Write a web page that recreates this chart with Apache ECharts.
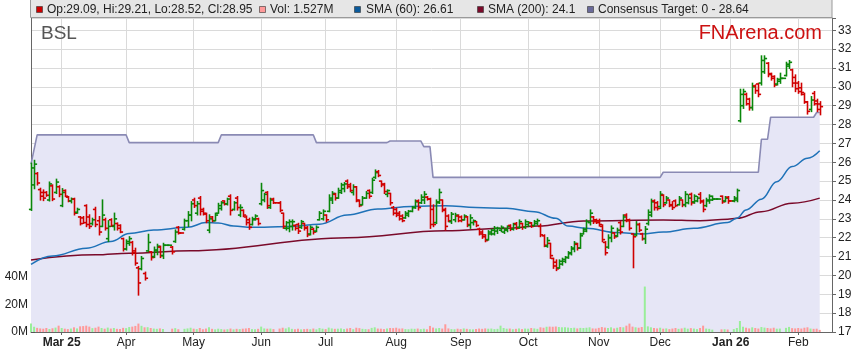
<!DOCTYPE html>
<html><head><meta charset="utf-8">
<script src="https://cdn.jsdelivr.net/npm/echarts@6/dist/echarts.min.js"></script>
<style>html,body{margin:0;padding:0;background:#fff}#c{width:859px;height:363px}</style>
</head><body><div id="c"></div>
<script>
const ticker = 'BSL';
const brand = 'FNArena.com';
const slotCount = 262; // weekday slots on the axis (Feb 17 2025 onward)
const monthTicks = [[10,'Mar 25',true],[31,'Apr'],[53,'May'],[75,'Jun'],[96,'Jul'],[119,'Aug'],[140,'Sep'],[162,'Oct'],[185,'Nov'],[205,'Dec'],[228,'Jan 26',true],[250,'Feb']];
const priceMin = 17, priceMax = 33.65, volMaxM = 228;
const volTicksM = [0, 20, 40];

// [open, high, low, close] per weekday slot
const ohlc = [
[23.5,25.95,23.45,25.7],[24.8,26.1,24.6,25.9],[25.4,25.45,24.8,24.9],[24.55,24.62,24.0,24.2],[24.4,24.53,23.97,24.1],
[24.4,24.44,24.2,24.25],[24.0,24.95,23.95,24.85],[24.75,24.8,23.97,24.05],[24.4,25.1,24.35,24.95],[24.7,24.75,24.18,24.3],
[23.7,24.6,23.65,24.4],[24.5,24.53,24.18,24.2],[24.15,24.18,23.91,23.95],[23.95,24.1,23.85,24.05],[24.05,24.09,23.21,23.3],
[23.35,23.56,23.3,23.5],[23.1,23.12,22.68,22.75],[23.05,23.12,22.76,22.8],[23.7,23.74,22.59,22.7],[23.1,23.21,22.5,22.6],
[22.75,23.03,22.68,22.95],[23.5,23.61,22.59,22.7],[22.9,23.12,22.15,22.3],[22.6,24.0,22.59,23.2],[22.95,23.03,22.41,22.5],
[21.95,22.9,21.8,22.6],[22.95,23.0,22.6,22.65],[22.6,23.3,22.41,23.0],[22.75,22.78,22.41,22.5],[22.65,22.68,22.27,22.3],
[21.95,21.97,21.3,21.4],[21.4,21.88,21.35,21.8],[21.7,22.05,21.6,21.95],[21.75,21.8,21.09,21.2],[21.3,21.44,20.55,20.65],
[20.4,20.47,18.96,19.6],[20.35,21.0,20.3,20.9],[20.1,20.17,19.76,19.85],[21.3,22.18,21.26,21.75],[21.25,21.26,20.82,20.95],
[21.0,21.5,20.95,21.35],[21.3,21.65,21.1,21.55],[21.5,21.55,20.95,21.05],[21.05,21.7,20.9,21.6],[21.6,21.6,21.6,21.6],
[21.6,21.6,21.6,21.6],[21.5,21.53,21.14,21.25],[21.8,22.41,21.76,22.3],[22.55,22.59,22.2,22.25],[22.25,22.25,22.25,22.25],
[22.45,22.98,22.41,22.9],[22.9,23.38,22.6,23.2],[23.2,23.91,22.9,23.8],[24.0,24.09,23.61,23.7],[23.3,23.91,23.21,23.8],
[24.1,24.18,23.21,23.4],[23.5,23.56,23.21,23.3],[23.25,23.3,22.8,22.9],[22.4,23.21,22.27,23.0],[23.1,23.12,22.85,22.9],
[22.9,23.3,22.9,23.2],[23.3,23.82,23.3,23.7],[23.55,23.91,23.47,23.85],[23.95,23.95,23.74,23.78],[23.8,24.09,23.74,24.05],
[24.2,24.27,23.21,23.45],[23.5,23.91,23.47,23.85],[24.1,24.18,23.47,23.6],[23.2,23.74,23.12,23.6],[23.45,23.47,23.12,23.2],
[23.1,23.15,22.68,22.8],[22.95,23.03,22.45,22.55],[22.7,23.08,22.68,23.0],[22.95,23.21,22.94,23.15],[23.0,23.03,22.68,22.75],
[23.8,24.88,23.74,24.5],[24.0,24.35,23.91,24.3],[24.4,24.44,23.56,23.7],[23.6,24.09,23.56,24.0],[24.05,24.09,23.82,23.85],
[23.85,23.85,23.85,23.85],[23.85,23.91,23.38,23.45],[23.3,23.3,22.5,22.6],[22.5,22.85,22.41,22.8],[22.5,22.94,22.32,22.85],
[22.6,22.94,22.41,22.85],[22.65,22.68,22.41,22.5],[22.7,22.76,22.23,22.35],[22.55,22.91,22.5,22.85],[22.75,22.76,22.41,22.5],
[22.55,22.59,22.06,22.15],[22.2,22.62,22.15,22.55],[22.45,22.5,22.2,22.3],[22.35,22.62,22.32,22.55],[22.95,23.38,22.94,23.3],
[23.0,23.47,22.94,23.4],[23.2,23.21,22.85,22.95],[23.4,24.27,23.38,24.1],[24.0,24.44,23.82,24.35],[24.3,24.35,24.0,24.1],
[24.1,24.62,24.09,24.5],[24.4,24.88,24.35,24.8],[24.6,24.92,24.44,24.85],[25.0,25.06,24.62,24.7],[24.8,24.88,24.44,24.5],
[24.4,24.8,24.27,24.7],[24.7,24.71,23.91,24.0],[23.95,24.0,23.65,23.7],[23.75,24.18,23.74,24.1],[24.1,24.44,24.09,24.35],
[24.5,24.53,24.1,24.2],[24.4,25.15,24.35,25.05],[25.2,25.59,25.15,25.45],[25.5,25.56,25.24,25.3],[25.0,25.0,24.71,24.8],
[24.85,24.88,24.35,24.45],[24.3,24.53,24.18,24.5],[24.35,24.35,23.74,23.85],[23.6,23.65,23.21,23.3],[23.5,23.56,23.12,23.2],
[23.3,23.38,22.94,23.0],[23.15,23.21,22.85,22.9],[23.05,23.38,23.03,23.3],[23.2,23.44,23.12,23.4],[23.4,23.65,23.38,23.6],
[23.6,24.0,23.56,23.9],[23.95,24.0,23.47,23.6],[23.85,24.27,23.82,24.15],[24.0,24.44,23.82,24.3],[24.15,24.18,24.0,24.05],
[24.05,24.09,22.5,22.7],[23.5,23.74,22.59,22.7],[22.8,24.0,22.76,23.9],[23.85,24.57,23.82,24.4],[24.0,24.0,23.38,23.45],
[23.5,23.56,22.41,22.6],[23.15,23.21,22.85,22.9],[22.85,23.33,22.76,23.25],[22.95,23.29,22.85,23.2],[23.15,23.21,22.85,22.9],
[23.1,23.15,22.85,22.95],[22.95,23.21,22.94,23.15],[23.1,23.12,22.59,22.7],[22.65,23.21,22.5,23.05],[22.8,22.94,22.68,22.9],
[22.85,22.85,22.59,22.65],[22.45,22.5,22.15,22.2],[22.3,22.37,21.97,22.05],[22.15,22.15,21.79,21.85],[21.9,22.37,21.88,22.3],
[22.2,22.45,22.15,22.4],[22.2,22.59,22.15,22.5],[22.35,22.55,22.23,22.5],[22.4,22.62,22.32,22.55],[22.3,22.5,22.23,22.45],
[22.4,22.62,22.32,22.6],[22.65,22.68,22.38,22.45],[22.45,22.76,22.41,22.7],[22.75,22.8,22.45,22.5],[22.55,22.94,22.5,22.85],
[22.75,22.76,22.45,22.55],[22.55,22.94,22.5,22.85],[22.7,22.85,22.59,22.8],[22.78,22.8,22.55,22.6],[22.65,22.91,22.62,22.85],
[22.75,22.98,22.68,22.9],[22.6,22.72,22.06,22.15],[22.1,22.15,21.53,21.6],[21.55,22.0,21.5,21.85],[21.7,21.7,20.91,21.05],
[20.9,20.91,20.38,20.5],[20.7,20.82,20.26,20.35],[20.4,20.82,20.38,20.75],[20.6,20.91,20.55,20.85],[20.75,21.0,20.68,20.95],
[20.95,21.26,20.91,21.2],[21.15,21.53,21.09,21.45],[21.4,21.79,21.26,21.7],[21.65,21.7,21.35,21.45],[21.45,22.23,21.44,22.1],
[22.2,22.5,22.2,22.45],[22.35,22.94,22.32,22.85],[22.8,23.47,22.68,23.3],[23.1,23.12,22.76,22.85],[22.95,22.98,22.76,22.8],
[22.9,22.98,22.62,22.7],[22.6,22.68,21.79,21.9],[21.75,21.79,21.09,21.2],[21.5,22.15,21.44,22.0],[22.0,22.62,21.79,22.5],
[22.25,22.27,21.97,22.05],[22.1,22.5,22.06,22.4],[22.8,22.85,22.2,22.3],[22.6,23.21,22.59,23.1],[23.2,23.26,22.85,22.95],
[22.9,22.98,22.41,22.5],[22.2,22.2,20.41,22.05],[22.15,22.85,22.1,22.7],[22.7,22.76,22.32,22.4],[22.2,22.23,21.88,21.95],
[21.95,22.59,21.7,22.45],[22.75,23.47,22.68,23.35],[23.2,24.04,23.12,23.9],[23.95,24.0,23.47,23.6],[23.85,23.91,23.47,23.55],
[23.65,24.44,23.55,24.3],[24.25,24.27,23.65,23.75],[23.85,24.18,23.83,24.1],[24.0,24.0,23.65,23.7],[23.75,23.91,23.5,23.6],
[23.95,24.0,23.65,23.7],[23.75,24.18,23.74,24.1],[24.0,24.0,23.65,23.75],[23.75,24.44,23.65,24.3],[23.85,24.27,23.8,24.1],
[24.3,24.36,23.74,23.85],[23.9,24.27,23.83,24.2],[23.95,24.18,23.91,24.1],[24.3,24.39,23.83,23.9],[23.95,24.0,23.38,23.5],
[23.7,24.09,23.65,24.0],[23.95,24.27,23.83,24.2],[24.0,24.21,23.98,24.05],[24.05,24.05,24.05,24.05],[24.05,24.05,24.05,24.05],
[24.2,24.21,23.83,23.9],[23.95,24.18,23.91,24.1],[24.15,24.18,23.83,23.95],[23.95,23.95,23.95,23.95],[23.95,24.18,23.91,24.1],
[24.0,24.57,23.91,24.5],[28.2,29.87,28.14,29.6],[29.0,29.87,28.86,29.75],[29.6,29.66,29.04,29.1],[29.35,29.39,28.77,28.9],
[28.9,30.19,28.77,30.0],[30.05,30.1,29.66,29.8],[30.15,30.19,29.48,29.6],[30.2,31.64,30.1,31.4],[30.8,31.64,30.72,31.5],
[31.25,31.28,30.54,30.65],[30.7,30.72,30.36,30.45],[30.55,30.58,30.01,30.1],[30.15,30.45,30.1,30.4],[30.3,30.72,30.19,30.45],
[30.45,30.45,30.45,30.45],[30.6,31.3,30.58,31.2],[31.1,31.39,30.98,31.3],[30.9,30.93,30.01,30.2],[30.5,30.63,29.75,29.9],
[30.2,30.28,29.66,29.75],[29.95,30.19,29.57,29.7],[29.6,29.66,29.13,29.2],[29.2,29.22,28.56,28.7],[28.8,29.48,28.69,29.3],
[29.65,29.75,29.04,29.1],[29.25,29.34,28.69,28.8],[29.09,29.21,28.52,28.95]
];

// volume in millions per slot
const volumeM = [
6.2,3.8,3.0,2.6,2.4,2.9,2.2,2.7,3.2,4.6, 2.9,2.4,2.1,2.5,3.4,2.6,4.1,4.3,4.6,3.9,
2.8,3.1,3.9,2.9,2.4,3.2,2.5,2.9,2.3,2.2, 3.0,2.8,3.6,3.9,4.4,6.1,4.5,3.4,3.5,2.9,
2.5,2.3,2.6,2.2,0,0,2.4,2.8,2.0,0, 2.3,2.6,3.1,2.4,2.1,2.9,2.0,2.5,3.4,2.3,
1.9,2.4,2.1,1.8,2.0,2.5,1.9,2.3,2.1,2.4, 2.6,2.9,2.1,2.0,2.3,3.9,2.6,2.4,2.5,2.1,
0,2.5,3.1,2.6,3.4,2.3,2.0,2.4,1.9,2.1, 2.3,2.0,2.5,1.9,2.9,2.4,2.1,3.2,2.6,2.3,
2.4,2.6,2.1,2.5,2.9,2.0,3.1,2.8,2.3,2.1, 2.0,3.0,3.4,2.5,2.4,2.1,2.6,2.9,2.8,3.1,
2.5,2.6,2.1,2.0,2.4,2.3,2.5,2.1,2.4,2.0, 4.4,3.2,2.6,2.9,2.5,5.6,2.6,2.1,2.0,2.4,
2.1,2.6,2.3,2.0,1.9,2.1,2.5,2.3,2.6,2.4, 2.5,2.1,2.3,4.6,2.9,2.4,2.5,2.0,2.3,2.6,
2.1,2.5,2.4,2.9,2.6,2.3,3.4,3.1,3.8,3.9, 3.8,4.0,3.6,3.4,3.5,3.2,2.9,3.1,2.6,3.0,
2.9,3.1,3.4,2.6,2.5,3.0,3.6,3.2,2.9,3.4, 2.6,3.1,3.6,3.4,4.6,6.1,3.9,3.4,3.1,3.6,
33,4.1,3.4,2.9,2.6,3.1,2.4,2.6,2.1,2.5, 2.9,2.3,2.6,3.1,2.4,2.8,2.5,2.1,2.9,4.6,
2.5,2.3,1.7,0,0,1.9,2.0,1.8,0,2.1, 2.9,8.0,3.9,3.1,2.6,3.4,2.9,2.5,3.6,3.2,
2.9,2.6,3.1,2.4,2.5,0,3.0,3.7,2.8,2.6, 2.9,2.5,3.1,3.4,2.5,2.3,2.4,1.527
];

// [slot index, value] points
const sma60 = [[0,20.59],[7,21.03],[18,21.44],[26,21.8],[32,22.22],[40,22.41],[51,22.55],[57,22.8],[61,22.78],[66,22.62],[72,22.55],[76,22.55],[85,22.6],[94,22.72],[103,23.2],[113,23.52],[124,23.65],[135,23.7],[145,23.6],[155,23.56],[164,23.38],[171,23.03],[175,22.62],[181,22.5],[191,22.27],[199,22.2],[206,22.3],[216,22.5],[227,22.8],[230,23.03],[233,23.47],[238,24.04],[243,24.97],[248,25.77],[253,26.21],[257,26.61]];
const sma200 = [[0,20.82],[21,21.09],[32,21.18],[52,21.31],[103,22.0],[135,22.37],[155,22.5],[165,22.62],[180,22.89],[206,22.94],[218,22.9],[227,22.98],[230,23.03],[238,23.38],[248,23.83],[257,24.1]];
const target = [[0,25.9],[2,27.45],[31,27.45],[32,27.04],[61,27.04],[62,27.45],[92,27.45],[93,27.04],[116,27.04],[117,27.13],[127,27.13],[128,26.83],[130,26.83],[131,25.2],[205,25.2],[206,25.47],[237,25.47],[238,27.22],[240,27.22],[241,28.39],[255,28.39],[256,28.64],[257,28.64]];

const FONT = '"Liberation Sans", Arial, sans-serif';
const UP = '#0a870a', DOWN = '#d00000', VUP = '#99ee99', VDOWN = '#ff9999';
const categories = Array.from({length: slotCount}, (_, i) => String(i));
const tickSet = new Set(monthTicks.map(t => t[0]));
const tickLabel = {}; monthTicks.forEach(t => tickLabel[t[0]] = t[2] ? '{b|' + t[1] + '}' : t[1]);

// colour per bar: close vs open, unchanged keeps previous colour
const isUp = []; ohlc.forEach((d, i) => { isUp.push(d[3] > d[0] ? 1 : d[3] < d[0] ? 0 : (i ? isUp[i-1] : 1)); });

const last = ohlc[ohlc.length - 1];
const legendItems = [
  {x: 36, tx: 47, color: '#cc0000', text: 'Op:' + last[0].toFixed(2) + ', Hi:' + last[1].toFixed(2) + ', Lo:' + last[2].toFixed(2) + ', Cl:' + last[3].toFixed(2)},
  {x: 259, tx: 270, color: '#ff9999', text: 'Vol: ' + volumeM[volumeM.length-1].toFixed(3) + 'M'},
  {x: 354, tx: 366, color: '#0a5a9c', text: 'SMA (60): ' + sma60[sma60.length-1][1]},
  {x: 477, tx: 488, color: '#7a0a2a', text: 'SMA (200): ' + sma200[sma200.length-1][1]},
  {x: 587, tx: 598, color: '#6a6a9a', text: 'Consensus Target: 0 - ' + target[target.length-1][1]}
];
const graphics = [{type: 'rect', z: 100, shape: {x: 30.5, y: -1, width: 801.5, height: 18.5}, style: {fill: '#e6e6e6', stroke: '#9a9a9a', lineWidth: 1}}];
legendItems.forEach(it => {
  graphics.push({type: 'rect', z: 101, shape: {x: it.x + 0.5, y: 6.5, width: 6, height: 6}, style: {fill: it.color, stroke: '#333', lineWidth: 0.6}});
  graphics.push({type: 'text', z: 101, x: it.tx, y: 10, style: {text: it.text, fill: '#222', font: '12px ' + FONT, textVerticalAlign: 'middle'}});
});
graphics.push({type: 'text', z: 50, x: 41, y: 24, style: {text: ticker, fill: '#555', font: '19px ' + FONT}});
graphics.push({type: 'text', z: 50, x: 822, y: 23, style: {text: brand, fill: '#cc1111', font: '20px ' + FONT, textAlign: 'right'}});

const chart = echarts.init(document.getElementById('c'), null, {renderer: 'canvas'});
chart.setOption({
  animation: false,
  backgroundColor: '#fff',
  textStyle: {fontFamily: FONT},
  grid: {left: 31, right: 27, top: 18, bottom: 31, containLabel: false},
  xAxis: {
    type: 'category', data: categories, boundaryGap: false,
    axisLine: {lineStyle: {color: '#666'}},
    axisTick: {interval: i => tickSet.has(i), length: 3, lineStyle: {color: '#666'}},
    axisLabel: {interval: i => tickSet.has(i), formatter: (v, i) => tickLabel[i] || '', margin: 5, color: '#222', fontSize: 12, fontFamily: FONT,
      rich: {b: {fontWeight: 'bold', fontSize: 12, color: '#222', fontFamily: FONT}}},
    splitLine: {show: true, interval: i => tickSet.has(i), lineStyle: {color: '#dadada'}}
  },
  yAxis: [
    {type: 'value', position: 'right', min: priceMin, max: priceMax, interval: 1,
     axisLine: {show: true, lineStyle: {color: '#666'}},
     axisTick: {show: true, length: 4, lineStyle: {color: '#666'}},
     axisLabel: {formatter: v => Math.abs(v - Math.round(v)) < 1e-6 ? String(Math.round(v)) : '', margin: 6, color: '#222', fontSize: 12, fontFamily: FONT},
     splitLine: {show: true, lineStyle: {color: '#dadada'}}},
    {type: 'value', position: 'left', min: 0, max: volMaxM,
     axisLine: {show: true, lineStyle: {color: '#666'}},
     axisTick: {show: true, inside: true, length: 4, customValues: volTicksM, lineStyle: {color: '#555'}},
     axisLabel: {customValues: volTicksM, formatter: v => v + 'M', margin: 3, color: '#222', fontSize: 12, fontFamily: FONT},
     splitLine: {show: false}}
  ],
  graphic: graphics,
  series: [
    {type: 'line', name: 'Consensus Target', data: target, yAxisIndex: 0, z: 1, symbol: 'none', smooth: false,
     lineStyle: {color: '#8a8ab4', width: 1.6}, areaStyle: {color: '#e6e6f6', opacity: 1, origin: 'start'}},
    {type: 'bar', name: 'Vol', yAxisIndex: 1, z: 2, barWidth: 2,
     data: volumeM.map((v, i) => ({value: v, itemStyle: {color: isUp[i] ? VUP : VDOWN}}))},
    {type: 'line', name: 'SMA (200)', data: sma200, yAxisIndex: 0, z: 3, symbol: 'none', smooth: 0.4, smoothMonotone: 'x',
     lineStyle: {color: '#7a0a2a', width: 1.5}},
    {type: 'line', name: 'SMA (60)', data: sma60, yAxisIndex: 0, z: 3, symbol: 'none', smooth: 0.4, smoothMonotone: 'x',
     lineStyle: {color: '#1f72b8', width: 1.5}},
    {type: 'custom', name: 'OHLC', yAxisIndex: 0, z: 4,
     data: ohlc.map((d, i) => [i, d[0], d[1], d[2], d[3], isUp[i]]),
     encode: {x: 0, y: [1, 2, 3, 4]},
     renderItem: (params, api) => {
       const i = api.value(0);
       const x = Math.round(api.coord([i, api.value(2)])[0]) + 0.5;
       const yO = api.coord([i, api.value(1)])[1];
       const yH = api.coord([i, api.value(2)])[1];
       const yL = api.coord([i, api.value(3)])[1];
       const yC = api.coord([i, api.value(4)])[1];
       const st = {stroke: api.value(5) ? UP : DOWN, lineWidth: 1.6};
       return {type: 'group', children: [
         {type: 'line', shape: {x1: x, y1: yH - 0.6, x2: x, y2: yL + 0.6}, style: st},
         {type: 'line', shape: {x1: x - 2.6, y1: yO, x2: x, y2: yO}, style: st},
         {type: 'line', shape: {x1: x, y1: yC, x2: x + 2.6, y2: yC}, style: st}
       ]};
     }}
  ]
});
</script>
</body></html>
